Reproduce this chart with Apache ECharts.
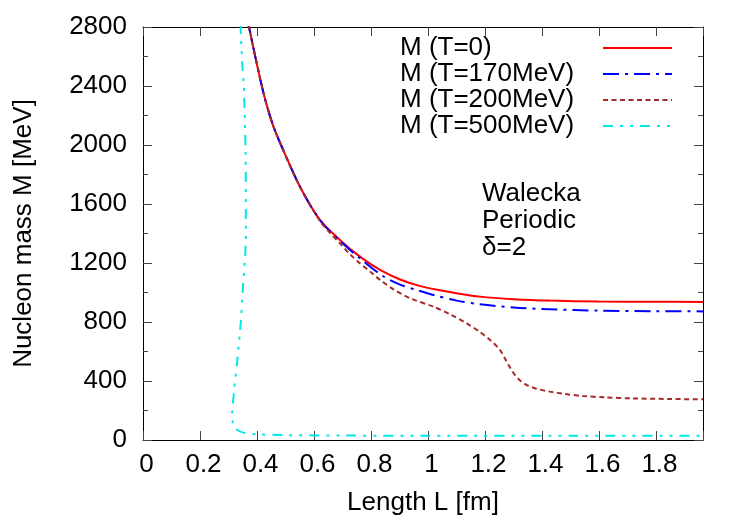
<!DOCTYPE html>
<html>
<head>
<meta charset="utf-8">
<script src="https://cdn.jsdelivr.net/npm/echarts@6/dist/echarts.min.js"></script>
<style>html,body{margin:0;padding:0;background:#fff}#c{width:750px;height:525px}</style>
</head>
<body>
<div id="c"></div>
<script>
// ---- data (L in fm, M in MeV) ----
const seriesNames = ['M (T=0)', 'M (T=170MeV)', 'M (T=200MeV)', 'M (T=500MeV)'];
const xTickLabels = ['0', '0.2', '0.4', '0.6', '0.8', '1', '1.2', '1.4', '1.6', '1.8'];
const yTickLabels = ['0', '400', '800', '1200', '1600', '2000', '2400', '2800'];

const m0 = [
  [0.365, 2866], [0.372, 2800], [0.399, 2554], [0.426, 2328], [0.455, 2140],
  [0.487, 1988], [0.551, 1717], [0.621, 1492], [0.691, 1356], [0.761, 1243],
  [0.832, 1153], [0.902, 1088], [0.970, 1045], [1.042, 1015], [1.100, 995],
  [1.182, 972], [1.300, 955], [1.428, 945], [1.600, 939], [1.800, 937],
  [1.965, 936]
];
const m170 = [
  [0.365, 2866], [0.372, 2800], [0.399, 2554], [0.426, 2328], [0.455, 2140],
  [0.487, 1988], [0.551, 1717], [0.621, 1490], [0.691, 1350], [0.761, 1232],
  [0.843, 1110], [0.900, 1055], [0.960, 1017], [1.019, 983], [1.100, 945],
  [1.182, 920], [1.300, 898], [1.428, 886], [1.600, 877], [1.800, 873],
  [1.965, 872]
];
const m200 = [
  [0.365, 2866], [0.372, 2800], [0.399, 2554], [0.426, 2328], [0.455, 2140],
  [0.487, 1988], [0.551, 1715], [0.621, 1485], [0.656, 1405], [0.691, 1333],
  [0.725, 1262], [0.761, 1198], [0.800, 1137], [0.832, 1085], [0.880, 1020],
  [0.937, 961], [1.019, 904], [1.080, 850], [1.136, 791], [1.180, 735],
  [1.218, 678], [1.253, 610], [1.276, 531], [1.290, 485], [1.305, 441],
  [1.325, 400], [1.346, 373], [1.380, 348], [1.428, 328], [1.480, 312],
  [1.544, 298], [1.620, 289], [1.720, 282], [1.850, 278], [1.965, 276]
];
const m500 = [
  [0.342, 2820], [0.348, 2554], [0.354, 2395], [0.360, 1945], [0.361, 1490],
  [0.361, 1356], [0.350, 1017], [0.343, 793], [0.332, 563], [0.320, 339],
  [0.313, 183], [0.315, 115], [0.325, 75], [0.352, 50], [0.400, 38],
  [0.500, 33], [0.700, 30], [1.000, 29], [1.500, 28], [1.965, 28]
];

const FONT = 'Liberation Sans';
const FS = 26;
const tickColor = '#444';

const chart = echarts.init(document.getElementById('c'), null, {renderer: 'canvas'});

function xFmt(v) {
  const i = Math.round(v / 0.2);
  if (Math.abs(v - i * 0.2) < 1e-6 && i >= 0 && i < xTickLabels.length) return xTickLabels[i];
  return '';
}
function yFmt(v) {
  const i = Math.round(v / 400);
  if (Math.abs(v - i * 400) < 1e-6 && i >= 0 && i < yTickLabels.length) return yTickLabels[i];
  return '';
}

const xBase = {
  type: 'value', min: 0, max: 1.965, interval: 0.2,
  splitLine: {show: false},
  axisLine: {show: true, onZero: false, lineStyle: {color: '#000', width: 1}},
  axisTick: {show: true, inside: true, length: 9, lineStyle: {color: tickColor}}
};
const yBase = {
  type: 'value', min: 0, max: 2800, interval: 400,
  splitLine: {show: false},
  axisLine: {show: true, onZero: false, lineStyle: {color: '#000', width: 1}},
  axisTick: {show: true, inside: true, length: 9, lineStyle: {color: tickColor}},
  minorTick: {show: true, splitNumber: 2, length: 5, lineStyle: {color: tickColor}},
  minorSplitLine: {show: false}
};

const colors = ['#ff0000', '#0000ff', '#a52a2a', '#00e8e8'];
const dashes = ['solid', [16, 6, 3, 6], [5, 3.5], [10, 7, 3, 7, 3, 7]];
const datas = [m0, m170, m200, m500];

const series = seriesNames.map((n, i) => ({
  name: n,
  type: 'line',
  xAxisIndex: 0, yAxisIndex: 0,
  data: datas[i],
  showSymbol: false,
  symbol: 'none',
  smooth: i === 3 ? 0.15 : 0.3,
  clip: true,
  lineStyle: {color: colors[i], width: 2, type: dashes[i]},
  itemStyle: {color: colors[i]}
}));

chart.setOption({
  backgroundColor: '#fff',
  animation: false,
  grid: {left: 143, right: 47, top: 27, bottom: 85, containLabel: false},
  xAxis: [
    Object.assign({}, xBase, {
      position: 'bottom',
      name: 'Length L [fm]', nameLocation: 'middle', nameGap: 50,
      nameTextStyle: {fontFamily: FONT, fontSize: FS, color: '#000'},
      axisLabel: {show: true, formatter: xFmt, margin: 12, padding: [0, 0, 0, 7], fontFamily: FONT, fontSize: FS, color: '#000', showMinLabel: true, showMaxLabel: true}
    }),
    Object.assign({}, xBase, {position: 'top', axisLabel: {show: false}})
  ],
  yAxis: [
    Object.assign({}, yBase, {
      position: 'left',
      name: 'Nucleon mass M [MeV]', nameLocation: 'middle', nameGap: 106,
      nameTextStyle: {fontFamily: FONT, fontSize: FS, color: '#000'},
      axisLabel: {show: true, formatter: yFmt, margin: 16, fontFamily: FONT, fontSize: FS, color: '#000'}
    }),
    Object.assign({}, yBase, {position: 'right', axisLabel: {show: false}})
  ],
  legend: {
    show: true,
    orient: 'vertical',
    left: 395, top: 30,
    align: 'right',
    itemWidth: 69, itemHeight: 14, itemGap: 0,
    selectedMode: false,
    itemStyle: {opacity: 0},
    formatter: '{a|{name}}',
    textStyle: {
      fontFamily: FONT, fontSize: FS, color: '#000', width: 198, lineHeight: 26,
      rich: {a: {align: 'left', fontFamily: FONT, fontSize: FS, color: '#000', lineHeight: 26}}
    },
    data: seriesNames
  },
  graphic: [{
    type: 'text', left: 482, top: 180, z: 100,
    style: {text: 'Walecka\nPeriodic\nδ=2', font: FS + 'px "' + FONT + '"', lineHeight: 27, fill: '#000'}
  }],
  series: series
});
</script>
</body>
</html>
